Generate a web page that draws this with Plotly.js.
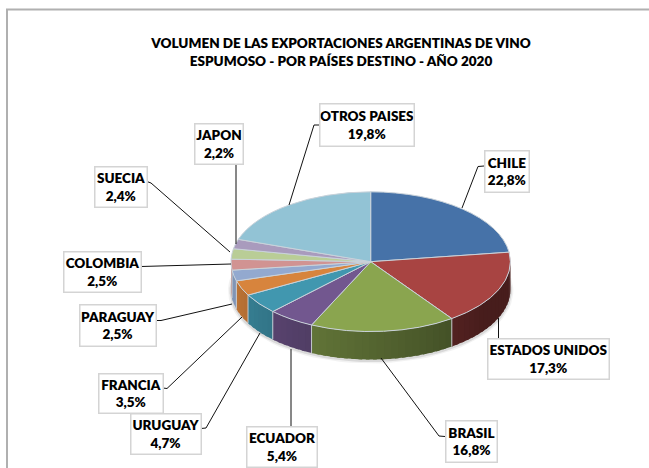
<!DOCTYPE html>
<html>
<head>
<meta charset="utf-8">
<script src="https://cdn.plot.ly/plotly-3.0.1.min.js"></script>
<style>html,body{margin:0;padding:0;background:#fff}#chart{width:649px;height:468px}
.pielayer path{vector-effect:non-scaling-stroke}</style>
</head>
<body>
<div id="chart"></div>
<script>
const countries = ['CHILE','ESTADOS UNIDOS','BRASIL','ECUADOR','URUGUAY','FRANCIA','PARAGUAY','COLOMBIA','SUECIA','JAPON','OTROS PAISES'];
const shares = [22.8,17.3,16.8,5.4,4.7,3.5,2.5,2.5,2.4,2.2,19.8];
const sliceColors = ['#4672A8','#A84442','#8AA54F','#72578F','#4197AF','#D7843D','#93A9CF','#D19392','#B9CD96','#A99BBD','#92C3D5'];

// layout only
const W = 649, H = 468, cx = 370.7, cy = 261.7, rx = 139.7, squash = 0.5, depth = 28;
const FONT = 'Lato, "Open Sans", sans-serif';
const labelBoxes = [
  [484,150,529,192],[487,338,609,379],[445,420,497,462],[246,426,317,467],[130,413,201,454],
  [98,373,163,413],[79,304,156,346],[63,251,141,292],[94,166,147,207],[194,123,243,164],[319,103,414,146]
];
const leaders = [
  [[484,166],[478,166.5],[462,208]],
  [[498.5,338],[498.5,318]],
  [[445,436.5],[439,436],[381,358]],
  [[291,426],[291,349]],
  [[201,428.5],[206,428],[260,333]],
  [[163,388],[167,388.5],[242,317]],
  [[156,320.5],[161,320.5],[232,304]],
  [[141,266.5],[231,264]],
  [[147,181.5],[151,183],[230,252]],
  [[236,164],[236,244]],
  [[319,125],[314,125],[289,205]]
];

const total = shares.reduce((a,b)=>a+b,0);
const px = a => cx + rx*Math.sin(a*Math.PI/180);
const py = a => cy - rx*squash*Math.cos(a*Math.PI/180);
function shade(hex,f){
  const n=parseInt(hex.slice(1),16);
  return 'rgb('+[(n>>16)&255,(n>>8)&255,n&255].map(c=>Math.round(c*f)).join(',')+')';
}
const wallFactor = a => Math.max(0.42, Math.min(0.88, 0.42+(a-125)/120*0.42));

const traces = [];
// soft shadow under the rim
[[6,'rgba(0,0,0,0.05)'],[3,'rgba(0,0,0,0.10)']].forEach(([w,c])=>{
  const xs=[],ys=[];
  for(let a=80;a<=280;a+=4){xs.push(px(a));ys.push(py(a)+depth+1);}
  traces.push({type:'scatter',mode:'lines',x:xs,y:ys,line:{color:c,width:w},hoverinfo:'skip',showlegend:false,xaxis:'x',yaxis:'y'});
});
// side wall derived from the same shares: overlapping strips, so no seams show
let start=0; const seams=[];
shares.forEach((v,i)=>{
  const end=start+v/total*360;
  const a0=Math.max(start,90), a1=Math.min(end,270);
  if(a1>a0){
    const step=3;
    for(let a=a0;a<a1;a+=step){
      const b=Math.min(a+step+1.5,a1);
      const c=shade(sliceColors[i],wallFactor((a+b)/2));
      traces.push({type:'scatter',mode:'lines',fill:'toself',fillcolor:c,
        x:[px(a),px(b),px(b),px(a),px(a)],
        y:[py(a),py(b),py(b)+depth,py(a)+depth,py(a)],
        line:{width:0,color:c},hoverinfo:'skip',showlegend:false});
    }
    if(a1<270) seams.push(a1);
  }
  start=end;
});
seams.forEach(a=>traces.push({type:'scatter',mode:'lines',x:[px(a),px(a)],y:[py(a),py(a)+depth],
  line:{color:'rgba(205,210,215,0.9)',width:1},hoverinfo:'skip',showlegend:false}));
// top face
traces.push({type:'pie',labels:countries,values:shares,sort:false,direction:'clockwise',rotation:0,
  marker:{colors:sliceColors,line:{color:'#c9d2da',width:1}},textinfo:'none',hoverinfo:'label+percent',showlegend:false,
  domain:{x:[(cx-rx)/W,(cx+rx)/W],y:[(H-cy-rx)/H,(H-cy+rx)/H]}});

const annotations = countries.map((name,i)=>{
  const [x0,y0,x1,y1]=labelBoxes[i];
  return {x:(x0+x1)/2,y:(y0+y1)/2,xref:'x',yref:'y',showarrow:false,
    text:name+'<br>'+shares[i].toFixed(1).replace('.',',')+'%',
    font:{family:FONT,size:13.5,color:'#000',weight:800},align:'center',width:x1-x0-2,height:y1-y0-2,
    bgcolor:'#fff',bordercolor:'#d4d4d4',borderwidth:1.5,borderpad:0,valign:'middle'};
});
const shapes = leaders.map(p=>({type:'path',xref:'x',yref:'y',layer:'above',
  path:'M'+p.map(q=>q.join(',')).join('L'),line:{color:'#111',width:1},fillcolor:'rgba(0,0,0,0)'}));
// chart frame
shapes.push({type:'path',xref:'x',yref:'y',layer:'above',path:'M7,468L7,9.5L649,9.5',line:{color:'#b0b0b0',width:2},fillcolor:'rgba(0,0,0,0)'});

const layout = {
  width:W,height:H,margin:{l:0,r:0,t:0,b:0},paper_bgcolor:'#fff',plot_bgcolor:'#fff',showlegend:false,
  title:{text:'VOLUMEN DE LAS EXPORTACIONES ARGENTINAS DE VINO<br>ESPUMOSO - POR PAÍSES DESTINO - AÑO 2020',
    font:{family:FONT,size:13.5,color:'#000',weight:800},x:341/W,xanchor:'center',y:1-48/H,yanchor:'middle'},
  xaxis:{range:[0,W],visible:false,fixedrange:true},
  yaxis:{range:[H,0],visible:false,fixedrange:true},
  annotations,shapes
};
Plotly.newPlot('chart',traces,layout,{displayModeBar:false}).then(gd=>{
  const pl=gd.querySelector('.pielayer');
  if(pl) pl.setAttribute('transform','translate('+cx+','+cy+') scale(1,'+squash+') translate('+(-cx)+','+(-cy)+')');
});
</script>
</body>
</html>
